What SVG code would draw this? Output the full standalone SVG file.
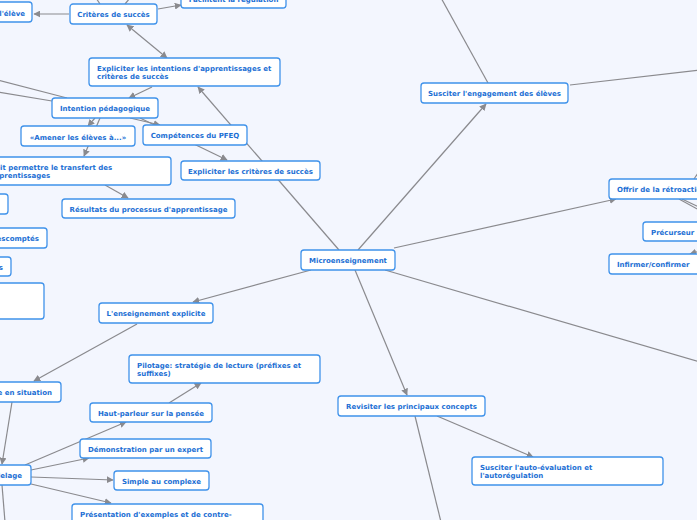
<svg xmlns="http://www.w3.org/2000/svg" width="697" height="520" viewBox="0 0 697 520">
<style>
.n rect{fill:#ffffff;stroke:#3f92ea;stroke-width:1.3}
.n text{font-family:"DejaVu Sans",Verdana,sans-serif;font-weight:bold;font-size:7px;fill:#1c6fd4}
.c{text-anchor:middle}
.e{text-anchor:end}
#connectors line{stroke:#8a8a8e;stroke-width:1.2;fill:none}
.a{marker-end:url(#arr)}
</style>
<defs>
<marker id="arr" viewBox="0 0 10 10" refX="9" refY="5" markerWidth="7" markerHeight="7" markerUnits="userSpaceOnUse" orient="auto-start-reverse">
<path d="M0,0 L10,5 L0,10 z" fill="#8a8a8e"/>
</marker>
</defs>
<rect x="0" y="0" width="697" height="520" fill="#f3f6fe"/>
<g id="connectors">
<line class="a" x1="358" y1="250" x2="486" y2="104"/>
<line x1="488" y1="83" x2="440" y2="-4"/>
<line x1="570" y1="85" x2="700" y2="70"/>
<line class="a" x1="339" y1="250" x2="198" y2="87"/>
<line class="a" x1="394" y1="248" x2="616" y2="199"/>
<line x1="679" y1="199" x2="699" y2="210"/>
<line x1="682" y1="199" x2="699" y2="207"/>
<line x1="694" y1="179" x2="700" y2="170"/>
<line class="a" x1="700" y1="251" x2="690" y2="254"/>
<line x1="385" y1="270" x2="700" y2="362"/>
<line class="a" x1="355" y1="270" x2="407" y2="395"/>
<line class="a" x1="311" y1="270" x2="193" y2="302"/>
<line class="a" x1="137" y1="324" x2="34" y2="381"/>
<line class="a" x1="12" y1="402" x2="2" y2="464"/>
<line class="a" x1="25" y1="465" x2="126" y2="422"/>
<line class="a" x1="31" y1="470" x2="89" y2="458"/>
<line class="a" x1="31" y1="477" x2="113" y2="480"/>
<line class="a" x1="31" y1="484" x2="111" y2="503"/>
<line x1="2" y1="485" x2="5" y2="522"/>
<line class="a" x1="169" y1="403" x2="201" y2="383"/>
<line class="a" x1="437" y1="416" x2="533" y2="457"/>
<line x1="415" y1="416" x2="441" y2="522"/>
<line class="a" x1="69" y1="14" x2="34" y2="14"/>
<line class="a" x1="158" y1="9" x2="181" y2="5"/>
<line x1="100" y1="4" x2="96" y2="-2"/>
<line x1="125" y1="4" x2="130" y2="-2"/>
<line class="a" x1="127" y1="25" x2="167" y2="58" marker-start="url(#arr)"/>
<line class="a" x1="152" y1="87" x2="129" y2="98"/>
<line x1="-2" y1="80" x2="67" y2="98"/>
<line x1="-2" y1="92" x2="52" y2="101"/>
<line class="a" x1="95" y1="118" x2="88" y2="126"/>
<line class="a" x1="100" y1="118" x2="84" y2="156"/>
<line class="a" x1="130" y1="118" x2="160" y2="125"/>
<line class="a" x1="140" y1="118" x2="227" y2="160"/>
<line class="a" x1="105" y1="185" x2="128" y2="198"/>
</g>
<g id="n-eleve" class="n"><rect x="-30" y="2" width="62" height="20" rx="3"/><text class="e" x="25" y="16">l'élève</text></g>
<g id="n-criteres" class="n"><rect x="70" y="4" width="87" height="20" rx="3"/><text class="c" x="113.5" y="17">Critères de succès</text></g>
<g id="n-facilitent" class="n"><rect x="181" y="-12" width="105" height="20" rx="3"/><text class="c" x="233.5" y="1.5">Facilitent la régulation</text></g>
<g id="n-intentions" class="n"><rect x="89" y="58" width="191" height="28" rx="3"/><text x="97" y="71">Expliciter les intentions d'apprentissages et</text><text x="97" y="79">critères de succès</text></g>
<g id="n-intention-peda" class="n"><rect x="52" y="98" width="106" height="20" rx="3"/><text class="c" x="105" y="111">Intention pédagogique</text></g>
<g id="n-amener" class="n"><rect x="21" y="126" width="114" height="20" rx="3"/><text class="c" x="78" y="139.5">«Amener les élèves à...»</text></g>
<g id="n-competences" class="n"><rect x="143" y="125" width="104" height="20" rx="3"/><text class="c" x="195" y="138">Compétences du PFEQ</text></g>
<g id="n-transfert" class="n"><rect x="-40" y="157" width="211" height="28" rx="3"/><text x="-10.5" y="169.5">Doit permettre le transfert des</text><text x="-10.5" y="177.5">apprentissages</text></g>
<g id="n-resultats" class="n"><rect x="62" y="199" width="173" height="19" rx="3"/><text class="c" x="148.5" y="211.5">Résultats du processus d'apprentissage</text></g>
<g id="n-expl-criteres" class="n"><rect x="181" y="161" width="139" height="19" rx="3"/><text class="c" x="250.5" y="173.5">Expliciter les critères de succès</text></g>
<g id="n-left1" class="n"><rect x="-50" y="194" width="58" height="20" rx="3"/></g>
<g id="n-escomptes" class="n"><rect x="-60" y="228" width="107" height="20" rx="3"/><text class="e" x="39" y="241">escomptés</text></g>
<g id="n-left3" class="n"><rect x="-50" y="257" width="61" height="19" rx="3"/><text class="e" x="3" y="269.5">s</text></g>
<g id="n-left4" class="n"><rect x="-100" y="283" width="144" height="36" rx="3"/></g>
<g id="n-enseignement" class="n"><rect x="99" y="303" width="114" height="20" rx="3"/><text class="c" x="156" y="316">L'enseignement explicite</text></g>
<g id="n-situation" class="n"><rect x="-60" y="382" width="121" height="20" rx="3"/><text class="e" x="52" y="395">Mise en situation</text></g>
<g id="n-pilotage" class="n"><rect x="129" y="355" width="191" height="28" rx="3"/><text x="137" y="367.5">Pilotage: stratégie de lecture (préfixes et</text><text x="137" y="375.5">suffixes)</text></g>
<g id="n-haut-parleur" class="n"><rect x="90" y="403" width="122" height="19" rx="3"/><text class="c" x="151" y="415.5">Haut-parleur sur la pensée</text></g>
<g id="n-demonstration" class="n"><rect x="80" y="439" width="131" height="19" rx="3"/><text class="c" x="145.5" y="451.5">Démonstration par un expert</text></g>
<g id="n-simple" class="n"><rect x="114" y="471" width="95" height="19" rx="3"/><text class="c" x="161.5" y="483.5">Simple au complexe</text></g>
<g id="n-presentation" class="n"><rect x="72" y="504" width="191" height="28" rx="3"/><text x="80" y="516.5">Présentation d'exemples et de contre-</text></g>
<g id="n-modelage" class="n"><rect x="-60" y="465" width="91" height="20" rx="3"/><text class="e" x="22" y="478">Modelage</text></g>
<g id="n-micro" class="n"><rect x="301" y="250" width="94" height="20" rx="3"/><text class="c" x="348" y="263">Microenseignement</text></g>
<g id="n-engagement" class="n"><rect x="421" y="83" width="147" height="20" rx="3"/><text class="c" x="494.5" y="96">Susciter l'engagement des élèves</text></g>
<g id="n-retroaction" class="n"><rect x="609" y="179" width="120" height="20" rx="3"/><text x="617" y="192">Offrir de la rétroaction</text></g>
<g id="n-precurseur" class="n"><rect x="643" y="222" width="80" height="19" rx="3"/><text x="651" y="234.5">Précurseur</text></g>
<g id="n-infirmer" class="n"><rect x="609" y="254" width="110" height="20" rx="3"/><text x="617" y="267">Infirmer/confirmer</text></g>
<g id="n-revisiter" class="n"><rect x="338" y="396" width="147" height="20" rx="3"/><text class="c" x="411.5" y="409">Revisiter les principaux concepts</text></g>
<g id="n-autoeval" class="n"><rect x="472" y="457" width="191" height="28" rx="3"/><text x="480" y="470">Susciter l'auto-évaluation et</text><text x="480" y="478">l'autorégulation</text></g>
</svg>
